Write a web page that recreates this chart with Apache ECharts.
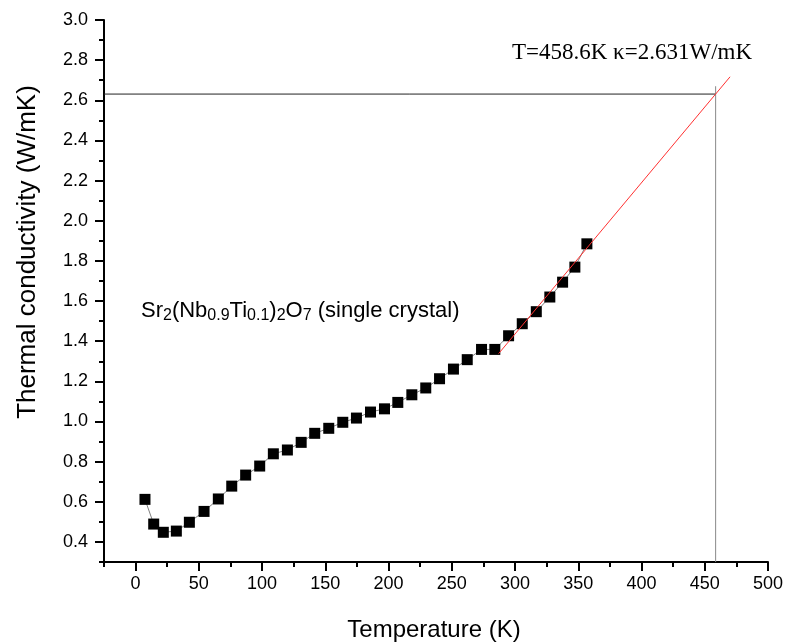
<!DOCTYPE html>
<html>
<head>
<meta charset="utf-8">
<script src="https://cdn.jsdelivr.net/npm/echarts@6/dist/echarts.min.js"></script>
<style>html,body{margin:0;padding:0;background:#fff;}#chart{width:785px;height:644px;}</style>
</head>
<body>
<div id="chart"></div>
<script>
// Measured data (Temperature in K, thermal conductivity in W/mK)
var temps = [7.4,14.3,21.9,32.2,42.5,54.1,65.4,76,87,98.1,108.9,120,130.9,141.6,152.7,163.8,174.6,185.7,196.8,207.3,218.4,229.4,240.3,251.3,262.2,273.5,284,294.9,305.7,316.8,327.5,337.6,347.3,356.8];
var kappa = [0.612,0.489,0.448,0.454,0.498,0.552,0.614,0.678,0.733,0.778,0.839,0.858,0.896,0.941,0.966,0.996,1.017,1.047,1.063,1.095,1.133,1.167,1.213,1.261,1.308,1.359,1.359,1.427,1.487,1.547,1.620,1.694,1.769,1.885];
// Linear fit (red) endpoints
var fitT = [287, 470];
var fitK = [1.338, 2.717];
// Extrapolated point
var markT = 458.6;
var markK = 2.631;
var vLineTop = 2.67;
// Axes
var xMin = -25, xMax = 500;
var yMin = 0.3, yMax = 3.0;
var xMajorTicks = [0,50,100,150,200,250,300,350,400,450,500];
var xMinorTicks = [-25,25,75,125,175,225,275,325,375,425,475];
var yMajorTicks = [0.4,0.6,0.8,1.0,1.2,1.4,1.6,1.8,2.0,2.2,2.4,2.6,2.8,3.0];
var yMinorTicks = [0.3,0.5,0.7,0.9,1.1,1.3,1.5,1.7,1.9,2.1,2.3,2.5,2.7,2.9];

var SANS = '"Liberation Sans", Arial, sans-serif';
var SERIF = '"Liberation Serif", "Times New Roman", serif';

var dataPts = temps.map(function (t, i) { return [t, kappa[i]]; });
var fitPts = fitT.map(function (t, i) { return [t, fitK[i]]; });

var chart = echarts.init(document.getElementById('chart'));
var axisCommon = {
  type: 'value', splitLine: {show: false}, scale: false
};
chart.setOption({
  animation: false,
  backgroundColor: '#ffffff',
  grid: {left: 104, right: 17, top: 20, bottom: 82, containLabel: false, outerBoundsMode: 'none'},
  xAxis: [
    Object.assign({}, axisCommon, {
      min: xMin, max: xMax, position: 'bottom',
      axisLine: {show: true, onZero: false, lineStyle: {color: '#000', width: 2}},
      axisTick: {show: true, inside: false, length: 9, lineStyle: {color: '#000', width: 2}, customValues: xMajorTicks},
      axisLabel: {show: true, margin: 13, color: '#000', fontSize: 18, fontFamily: SANS, customValues: xMajorTicks,
        formatter: function (v) { return String(Math.round(v)); }}
    }),
    Object.assign({}, axisCommon, {
      min: xMin, max: xMax, position: 'bottom',
      axisLine: {show: false, onZero: false},
      axisTick: {show: true, inside: false, length: 5, lineStyle: {color: '#000', width: 2}, customValues: xMinorTicks},
      axisLabel: {show: false}
    })
  ],
  yAxis: [
    Object.assign({}, axisCommon, {
      min: yMin, max: yMax, position: 'left',
      axisLine: {show: true, onZero: false, lineStyle: {color: '#000', width: 2}},
      axisTick: {show: true, inside: false, length: 9, lineStyle: {color: '#000', width: 2}, customValues: yMajorTicks},
      axisLabel: {show: true, margin: 16, color: '#000', fontSize: 18, fontFamily: SANS, customValues: yMajorTicks,
        formatter: function (v) { return v.toFixed(1); }}
    }),
    Object.assign({}, axisCommon, {
      min: yMin, max: yMax, position: 'left',
      axisLine: {show: false, onZero: false},
      axisTick: {show: true, inside: false, length: 5, lineStyle: {color: '#000', width: 2}, customValues: yMinorTicks},
      axisLabel: {show: false}
    })
  ],
  graphic: [
    {type: 'text', x: 28, y: 252, rotation: Math.PI / 2,
      style: {text: 'Thermal conductivity (W/mK)', fontSize: 26, fontFamily: SANS, fill: '#000', align: 'center', verticalAlign: 'middle'}},
    {type: 'text', x: 434, y: 630,
      style: {text: 'Temperature (K)', fontSize: 24, fontFamily: SANS, fill: '#000', align: 'center', verticalAlign: 'middle'}},
    {type: 'text', x: 632, y: 53,
      style: {text: 'T=458.6K \u03ba=2.631W/mK', fontSize: 23, fontFamily: SERIF, fill: '#000', align: 'center', verticalAlign: 'middle'}},
    {type: 'text', x: 141, y: 311,
      style: {
        text: '{m|Sr}{s|2}{m|(Nb}{s|0.9}{m|Ti}{s|0.1}{m|)}{s|2}{m|O}{s|7}{m| (single crystal)}',
        align: 'left', verticalAlign: 'middle',
        rich: {
          m: {fontSize: 22, fontFamily: SANS, fill: '#000', lineHeight: 26, verticalAlign: 'middle'},
          s: {fontSize: 16, fontFamily: SANS, fill: '#000', lineHeight: 16, verticalAlign: 'bottom'}
        }
      }}
  ],
  series: [
    {
      type: 'line', data: [[xMin, markK], [markT, markK]], showSymbol: false, symbol: 'none',
      lineStyle: {color: '#222', width: 1}, silent: true, z: 1
    },
    {
      type: 'line', data: [[markT, yMin], [markT, vLineTop]], showSymbol: false, symbol: 'none',
      lineStyle: {color: '#888', width: 1}, silent: true, z: 1
    },
    {
      type: 'line', data: dataPts, symbol: 'rect', symbolSize: 11, showAllSymbol: true,
      itemStyle: {color: '#000'}, lineStyle: {color: '#000', width: 0.5}, z: 3
    },
    {
      type: 'line', data: fitPts, showSymbol: false, symbol: 'none',
      lineStyle: {color: '#ff3030', width: 1}, z: 4
    }
  ]
});
</script>
</body>
</html>
